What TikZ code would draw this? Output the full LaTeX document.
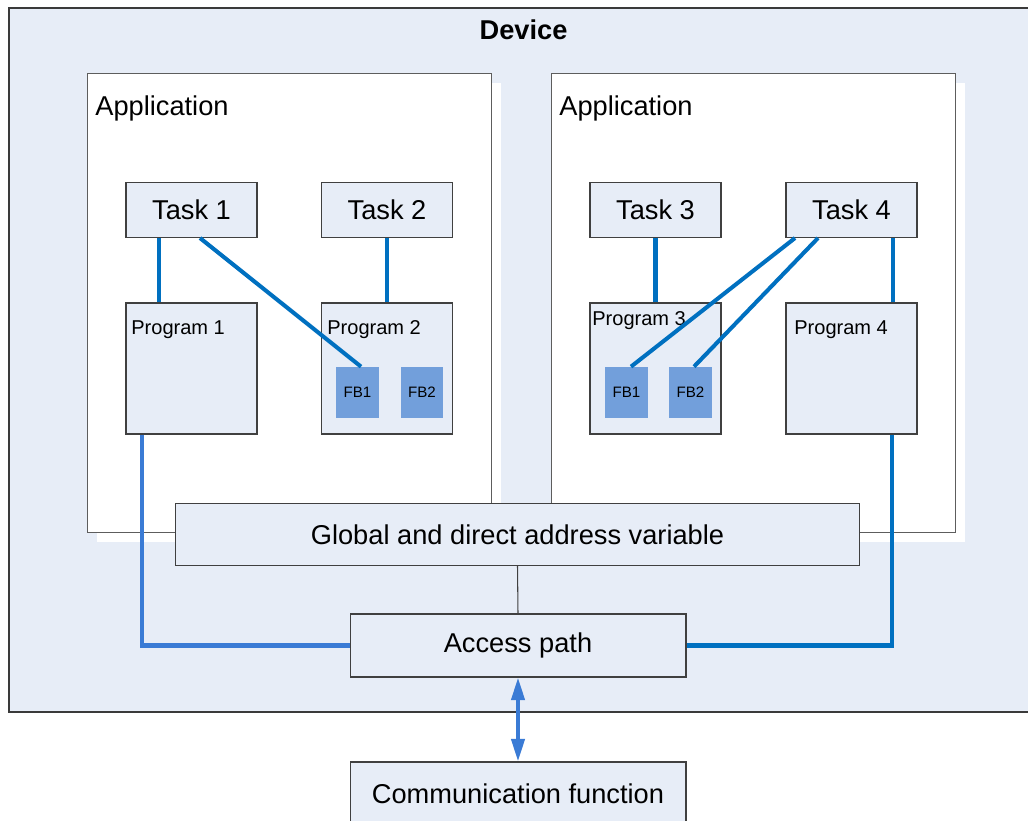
\documentclass[tikz,border=0pt]{standalone}
\usepackage{fontspec}
\setmainfont{Liberation Sans}
\usetikzlibrary{arrows.meta,positioning,calc,shadows}
\definecolor{ink}{HTML}{404040}
\definecolor{pale}{HTML}{E7EDF7}
\definecolor{fbc}{HTML}{729FDB}
\definecolor{wire}{HTML}{0070C0}
\definecolor{wireb}{HTML}{3A7BD5}
\tikzset{box/.style={draw=ink,fill=pale,line width=.6pt,inner sep=0pt},
  bigtxt/.style={font=\fontsize{15.5}{18}\selectfont},
  taskbox/.style={box,bigtxt,minimum width=2.62cm,minimum height=1.1cm},
  progbox/.style={box,minimum width=2.62cm,minimum height=2.62cm},
  fbbox/.style={fill=fbc,minimum width=.85cm,minimum height=1.02cm,inner sep=0pt,font=\fontsize{8.6}{10}\selectfont},
  appbox/.style={draw=ink!85,fill=white,line width=.6pt,minimum width=8.1cm,minimum height=9.17cm,inner sep=0pt,
    general shadow={fill=white,shadow xshift=.19cm,shadow yshift=-.19cm}},
  lbl/.style={anchor=west,inner sep=0pt},
  proglbl/.style={lbl,font=\fontsize{11.4}{13}\selectfont},
  link/.style={draw=wire,line width=2.3pt},
  linkb/.style={draw=wireb,line width=2.3pt}}

\begin{document}
\begin{tikzpicture}[x=.02cm,y=-.02cm]
\useasboundingbox (0,0) rectangle (1028,821);
\clip (0,0) rectangle (1028,821);
\node[box,line width=.8pt,draw=ink!90!black,minimum width=20.62cm,minimum height=14.08cm] (device) at (524.5,360) {};
\node[anchor=base,font=\bfseries\fontsize{15.5}{18}\selectfont] (devlbl) at (523.5,40) {Device};
\node[appbox] (app1) at (289.5,302.9) {};
\node[appbox] (app2) at (753.5,302.9) {};
\node[lbl,bigtxt] (app1lbl) at (95,108) {Application};
\node[lbl,bigtxt] (app2lbl) at (559,108) {Application};
\node[taskbox] (task1) at (191.5,210) {Task 1};
\node[taskbox] (task2) at (387,210) {Task 2};
\node[taskbox] (task3) at (655.5,210) {Task 3};
\node[taskbox] (task4) at (851.5,210) {Task 4};
\node[progbox] (prog1) at (191.5,368.5) {};
\node[progbox] (prog2) at (387,368.5) {};
\node[progbox] (prog3) at (655.5,368.5) {};
\node[progbox] (prog4) at (851.5,368.5) {};
\node[proglbl] (prog1lbl) at (131,330) {Program 1};
\node[proglbl] (prog2lbl) at (327,330) {Program 2};
\node[proglbl] (prog3lbl) at (592,321) {Program 3};
\node[proglbl] (prog4lbl) at (794,330) {Program 4};
\node[fbbox] (fb1a) at (357.5,392.5) {FB1};
\node[fbbox] (fb2a) at (422,392.5) {FB2};
\node[fbbox] (fb1b) at (626.5,392.5) {FB1};
\node[fbbox] (fb2b) at (690.5,392.5) {FB2};
\draw[link] ([xshift=-.65cm]task1.south) -- ([xshift=-.65cm]prog1.north);
\draw[link] ([xshift=.17cm]task1.south) -- ([xshift=.07cm]fb1a.north);
\draw[link] (task2.south) -- (prog2.north);
\draw[link] (task3.south) -- (prog3.north);
\draw[link] ([xshift=-1.13cm]task4.south) -- ([xshift=.09cm]fb1b.north);
\draw[link] ([xshift=-.67cm]task4.south) -- ([xshift=.07cm]fb2b.north);
\draw[link] ([xshift=.83cm]task4.south) -- ([xshift=.83cm]prog4.north);
\node[box,bigtxt,minimum width=13.7cm,minimum height=1.25cm] (global) at (517.5,534.3) {Global and direct address variable};
\node[box,bigtxt,minimum width=6.72cm,minimum height=1.26cm] (access) at (518,645.5) {Access path};
\node[box,bigtxt,minimum width=6.72cm,minimum height=1.26cm] (comm) at (518,793.5) {Communication function};
\draw[ink,line width=.6pt] (global.south) -- (access.north);
\draw[linkb] ([xshift=-.99cm]prog1.south) |- (access.west);
\draw[link] ([xshift=.81cm]prog4.south) |- (access.east);
\draw[linkb,{Triangle[length=.45cm,width=.26cm]}-{Triangle[length=.45cm,width=.26cm]}] (access.south) -- (comm.north);
\end{tikzpicture}
\end{document}
